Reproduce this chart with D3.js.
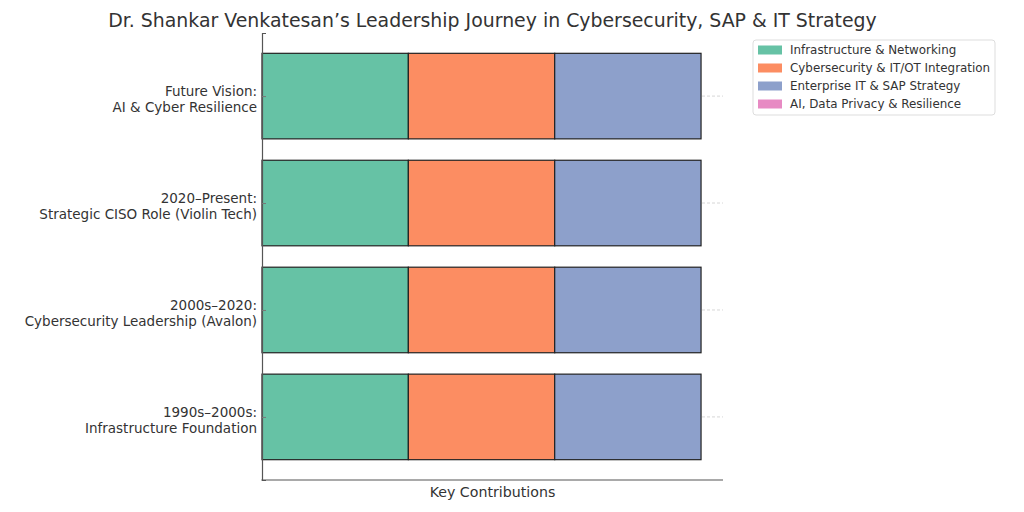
<!DOCTYPE html>
<html lang="en">
<head>
<meta charset="utf-8">
<script src="https://cdnjs.cloudflare.com/ajax/libs/d3/7.8.5/d3.min.js"></script>
<style>
  body { margin: 0; background: #fff; }
  svg { display: block; font-family: "DejaVu Sans", sans-serif; }
</style>
</head>
<body>
<script>
// categories, bottom to top (as in the picture)
var stages = [
  ["1990s\u20132000s:", "Infrastructure Foundation"],
  ["2000s\u20132020:", "Cybersecurity Leadership (Avalon)"],
  ["2020\u2013Present:", "Strategic CISO Role (Violin Tech)"],
  ["Future Vision:", "AI & Cyber Resilience"]
]
var seriesNames = ["Infrastructure & Networking", "Cybersecurity & IT/OT Integration", "Enterprise IT & SAP Strategy", "AI, Data Privacy & Resilience"]
var infra = [1, 1, 1, 1]
var cyber = [1, 1, 1, 1]
var sap = [1, 1, 1, 1]
var ai = [0, 0, 0, 0]
var colors = ["#66c2a5", "#fc8d62", "#8da0cb", "#e78ac3"]

var width = 1024, height = 512
var margin = {left: 262, right: 1024 - 723, top: 33, bottom: 512 - 480}
var textColor = "#333"

var table = stages.map((s, i) => ({key: i, infra: infra[i], cyber: cyber[i], sap: sap[i], ai: ai[i]}))
var keys = ["infra", "cyber", "sap", "ai"]
var stacked = d3.stack().keys(keys)(table)

var maxX = d3.max(table, d => d.infra + d.cyber + d.sap + d.ai)

var x = d3.scaleLinear().domain([0, maxX * 1.05]).range([margin.left, width - margin.right])
// matplotlib-style: bars of height 0.8 around integer positions, 5% margins
var y = d3.scaleLinear().domain([-0.59, stages.length - 1 + 0.59]).range([height - margin.bottom, margin.top])
var barH = 0.8

var svg = d3.select("body").append("svg")
    .attr("width", width)
    .attr("height", height)

// gridlines
svg.append("g")
    .selectAll("line")
    .data(stages.map((s, i) => i))
    .join("line")
    .attr("x1", x.range()[0])
    .attr("x2", x.range()[1])
    .attr("y1", d => y(d))
    .attr("y2", d => y(d))
    .attr("stroke", "#ccc")
    .attr("stroke-width", 0.8)
    .attr("stroke-dasharray", "3,2")

// bars
svg.append("g")
    .selectAll("g")
    .data(stacked)
    .join("g")
    .attr("fill", (d, i) => colors[i])
    .selectAll("rect")
    .data(d => d.filter(v => v[1] - v[0] > 0))
    .join("rect")
    .attr("x", d => x(d[0]))
    .attr("width", d => x(d[1]) - x(d[0]))
    .attr("y", d => y(d.data.key + barH / 2))
    .attr("height", d => y(d.data.key - barH / 2) - y(d.data.key + barH / 2))
    .attr("stroke", "#222")
    .attr("stroke-width", 1.2)

// y axis
var yAxis = svg.append("g")
    .attr("transform", `translate(${margin.left},0)`)
    .call(d3.axisLeft(y).tickValues(stages.map((s, i) => i)).tickSize(-4).tickFormat(""))
yAxis.select(".domain").attr("stroke", "#555").attr("stroke-width", 1.2)
yAxis.selectAll(".tick line").attr("stroke", "#777")

// y labels
var lbl = svg.append("g")
    .selectAll("text")
    .data(stages)
    .join("text")
    .attr("text-anchor", "end")
    .attr("x", margin.left - 5)
    .attr("y", (d, i) => y(i) + 2)
    .attr("font-size", 13.5)
    .attr("fill", textColor)
lbl.selectAll("tspan")
    .data(d => d)
    .join("tspan")
    .attr("x", margin.left - 5)
    .attr("dy", (d, i) => i === 0 ? "-0.15em" : "1.2em")
    .text(d => d)

// x axis (no ticks)
svg.append("line")
    .attr("x1", x.range()[0] - 0.6)
    .attr("x2", x.range()[1])
    .attr("y1", y.range()[0])
    .attr("y2", y.range()[0])
    .attr("stroke", "#555")
    .attr("stroke-width", 1.2)

svg.append("text")
    .attr("x", (x.range()[0] + x.range()[1]) / 2)
    .attr("y", 497)
    .attr("text-anchor", "middle")
    .attr("font-size", 14.2)
    .attr("fill", textColor)
    .text("Key Contributions")

// title
svg.append("text")
    .attr("x", (x.range()[0] + x.range()[1]) / 2)
    .attr("y", 27)
    .attr("text-anchor", "middle")
    .attr("font-size", 18.9)
    .attr("fill", textColor)
    .text("Dr. Shankar Venkatesan\u2019s Leadership Journey in Cybersecurity, SAP & IT Strategy")

// legend
var leg = svg.append("g").attr("transform", "translate(753,40)")
leg.append("rect")
    .attr("width", 242)
    .attr("height", 75)
    .attr("rx", 3)
    .attr("fill", "#fff")
    .attr("stroke", "#ddd")
var item = leg.selectAll(".item")
    .data(seriesNames)
    .join("g")
    .attr("class", "item")
    .attr("transform", (d, i) => `translate(5,${10 + i * 18})`)
item.append("rect")
    .attr("y", -4.5)
    .attr("width", 24)
    .attr("height", 9)
    .attr("fill", (d, i) => colors[i])
item.append("text")
    .attr("x", 32)
    .attr("dy", "0.35em")
    .attr("font-size", 11.9)
    .attr("fill", textColor)
    .text(d => d)
</script>
</body>
</html>
